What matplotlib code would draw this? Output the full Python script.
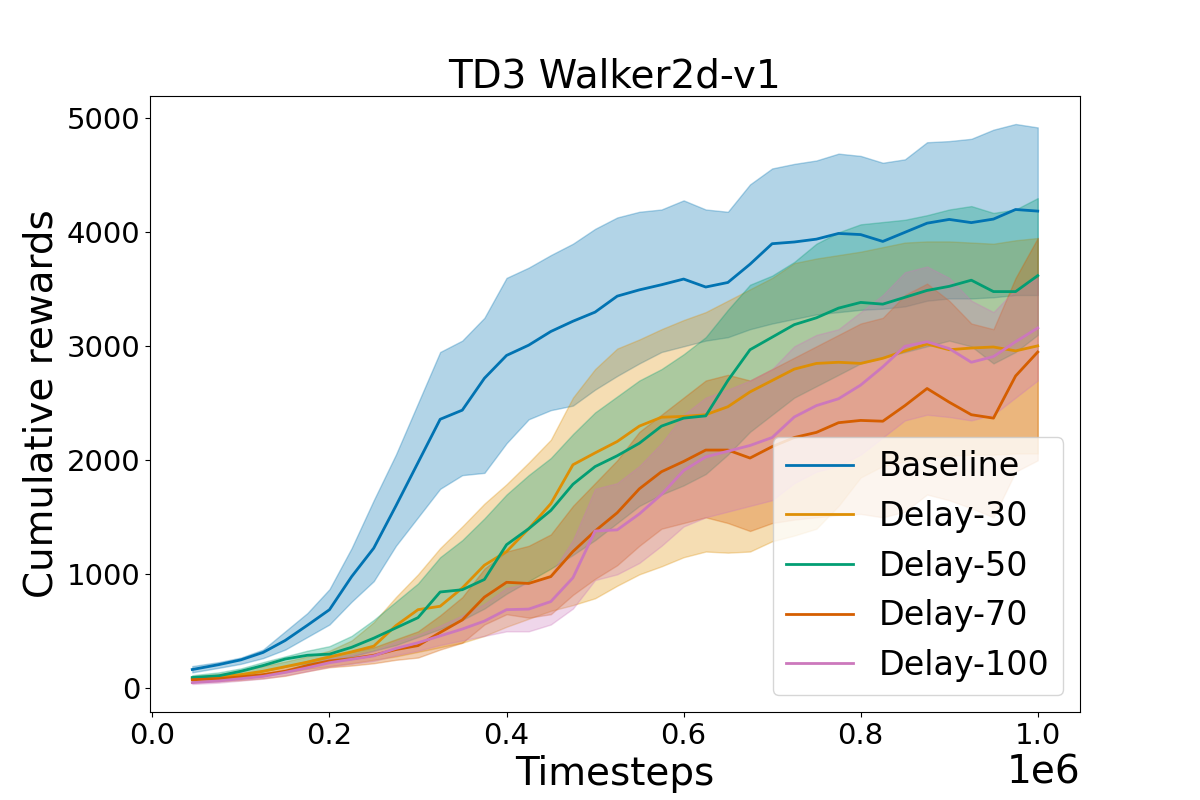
import matplotlib
matplotlib.use("Agg")
import matplotlib.pyplot as plt

timesteps = [45000, 75000, 100000, 125000, 150000, 175000, 200000, 225000, 250000, 275000,
             300000, 325000, 350000, 375000, 400000, 425000, 450000, 475000, 500000, 525000,
             550000, 575000, 600000, 625000, 650000, 675000, 700000, 725000, 750000, 775000,
             800000, 825000, 850000, 875000, 900000, 925000, 950000, 975000, 1000000]

series_names = ["Baseline", "Delay-30", "Delay-50", "Delay-70", "Delay-100"]
series_colors = ["#0173b2", "#de8f05", "#029e73", "#d55e00", "#cc78bc"]

baseline_mean = [165, 208, 250, 315, 420, 553, 690, 980, 1230, 1600,
                 1980, 2360, 2440, 2720, 2920, 3010, 3130, 3220, 3300, 3440,
                 3495, 3540, 3590, 3520, 3560, 3720, 3900, 3915, 3940, 3990,
                 3980, 3920, 4000, 4080, 4113, 4085, 4116, 4200, 4186]
baseline_hi = [195, 230, 270, 340, 500, 660, 870, 1230, 1650, 2050,
               2500, 2950, 3050, 3250, 3600, 3690, 3800, 3900, 4030, 4130,
               4180, 4200, 4280, 4200, 4180, 4420, 4560, 4600, 4630, 4690,
               4670, 4610, 4640, 4790, 4800, 4820, 4900, 4950, 4920]
baseline_lo = [140, 180, 215, 265, 340, 450, 560, 760, 940, 1250,
               1500, 1750, 1870, 1890, 2150, 2360, 2440, 2480, 2620, 2740,
               2850, 2950, 3000, 3050, 3080, 3150, 3200, 3240, 3280, 3300,
               3320, 3330, 3350, 3400, 3420, 3420, 3430, 3450, 3450]

d30_mean = [85, 100, 120, 150, 190, 230, 275, 320, 370, 550,
            690, 720, 880, 1080, 1200, 1400, 1620, 1961, 2065, 2165,
            2300, 2378, 2385, 2400, 2470, 2600, 2700, 2800, 2850, 2860,
            2850, 2895, 2960, 3020, 2970, 2985, 2994, 2960, 3004]
d30_hi = [105, 125, 155, 195, 235, 280, 330, 420, 580, 800,
          1000, 1230, 1420, 1620, 1790, 1980, 2180, 2550, 2800, 2980,
          3060, 3150, 3230, 3300, 3400, 3500, 3600, 3730, 3770, 3800,
          3830, 3870, 3910, 3920, 3920, 3910, 3900, 3930, 3950]
d30_lo = [60, 70, 90, 115, 140, 170, 195, 220, 250, 280,
          320, 360, 400, 460, 540, 610, 680, 730, 790, 900,
          1000, 1070, 1150, 1200, 1190, 1200, 1290, 1340, 1400, 1600,
          1850, 1950, 1990, 2020, 2040, 2050, 2050, 2060, 2060]

d50_mean = [95, 110, 150, 200, 257, 290, 300, 360, 440, 530,
            620, 845, 865, 955, 1260, 1400, 1560, 1790, 1945, 2040,
            2150, 2300, 2370, 2390, 2700, 2970, 3080, 3190, 3250, 3335,
            3385, 3370, 3430, 3490, 3526, 3580, 3480, 3480, 3620]
d50_hi = [115, 140, 175, 230, 280, 330, 370, 460, 600, 760,
          920, 1150, 1300, 1490, 1700, 1870, 2020, 2230, 2420, 2560,
          2700, 2800, 2930, 3080, 3320, 3540, 3620, 3740, 3900, 4000,
          4070, 4090, 4110, 4150, 4200, 4230, 4170, 4200, 4300]
d50_lo = [75, 90, 115, 150, 190, 220, 240, 280, 330, 380,
          450, 520, 600, 700, 830, 940, 1050, 1170, 1300, 1450,
          1600, 1700, 1780, 1880, 2050, 2250, 2400, 2550, 2650, 2750,
          2850, 2900, 2950, 3000, 3050, 3000, 2850, 2950, 3100]

d70_mean = [75, 85, 100, 120, 150, 200, 240, 260, 290, 340,
            375, 490, 600, 800, 930, 920, 980, 1200, 1380, 1540,
            1750, 1900, 1990, 2090, 2090, 2020, 2120, 2200, 2245, 2330,
            2350, 2343, 2480, 2630, 2510, 2400, 2370, 2740, 2950]
d70_hi = [95, 110, 130, 155, 190, 240, 290, 320, 360, 430,
          500, 640, 800, 1050, 1200, 1250, 1350, 1600, 1800, 2000,
          2250, 2400, 2550, 2700, 2750, 2700, 2800, 2900, 3000, 3100,
          3200, 3250, 3450, 3550, 3400, 3200, 3150, 3600, 3950]
d70_lo = [55, 62, 72, 88, 110, 150, 185, 200, 220, 250,
          270, 340, 400, 560, 650, 620, 650, 820, 960, 1080,
          1250, 1400, 1450, 1500, 1450, 1380, 1450, 1480, 1500, 1520,
          1530, 1500, 1550, 1700, 1650, 1580, 1500, 1900, 2000]

d100_mean = [50, 65, 85, 105, 140, 180, 225, 255, 285, 350,
             400, 460, 520, 590, 690, 695, 761, 970, 1380, 1390,
             1530, 1700, 1910, 2030, 2080, 2130, 2200, 2380, 2480, 2540,
             2660, 2820, 3000, 3040, 2980, 2860, 2910, 3040, 3161]
d100_hi = [65, 80, 100, 125, 165, 210, 260, 295, 330, 410,
           470, 550, 640, 740, 880, 920, 1000, 1300, 1750, 1800,
           1950, 2150, 2400, 2550, 2620, 2700, 2800, 3000, 3100, 3150,
           3300, 3450, 3650, 3700, 3600, 3400, 3300, 3500, 3600]
d100_lo = [38, 50, 68, 85, 115, 150, 190, 215, 240, 290,
           330, 380, 420, 460, 500, 500, 560, 700, 950, 1000,
           1100, 1250, 1420, 1500, 1550, 1600, 1650, 1800, 1900, 1950,
           2050, 2200, 2350, 2400, 2380, 2350, 2400, 2550, 2700]

means = [baseline_mean, d30_mean, d50_mean, d70_mean, d100_mean]
his = [baseline_hi, d30_hi, d50_hi, d70_hi, d100_hi]
los = [baseline_lo, d30_lo, d50_lo, d70_lo, d100_lo]

fig, ax = plt.subplots(figsize=(12, 8), dpi=100)
for name, col, m, hi, lo in zip(series_names, series_colors, means, his, los):
    ax.plot(timesteps, m, color=col, lw=2, label=name)
    ax.fill_between(timesteps, lo, hi, color=col, alpha=0.3)

ax.set_title("TD3 Walker2d-v1", fontsize=28)
ax.set_xlabel("Timesteps", fontsize=28)
ax.set_ylabel("Cumulative rewards", fontsize=28)
ax.tick_params(axis="both", labelsize=21)
ax.xaxis.get_offset_text().set_fontsize(28)
ax.legend(loc="lower right", fontsize=24)

fig.savefig("out.png", dpi=100)
